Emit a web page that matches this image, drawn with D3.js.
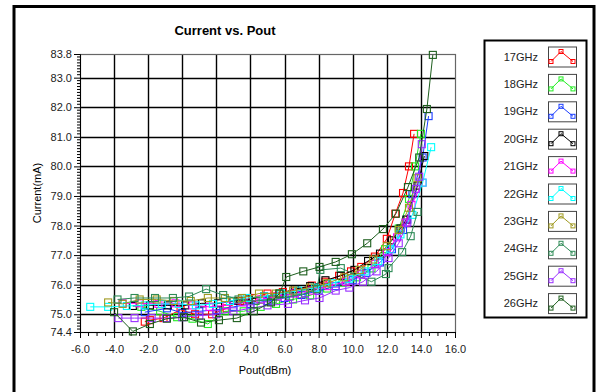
<!DOCTYPE html>
<html><head><meta charset="utf-8">
<script src="https://cdn.jsdelivr.net/npm/d3@7"></script>
<style>
html,body{margin:0;padding:0;background:#fff;}
svg text{font-family:"Liberation Sans",Arial,sans-serif;}
</style></head>
<body><svg id="c" width="603" height="392"></svg>
<script>
const title = "Current vs. Pout";
const xLabel = "Pout(dBm)";
const yLabel = "Current(mA)";
const xTicks = [-6,-4,-2,0,2,4,6,8,10,12,14,16];
const yTicks = [74.4,75,76,77,78,79,80,81,82,83,83.8];
const seriesNames = ["17GHz","18GHz","19GHz","20GHz","21GHz","22GHz","23GHz","24GHz","25GHz","26GHz"];
const seriesColors = ["#ff0000","#22ee22","#1a3cff","#000000","#ff00ff","#00ffff","#a09a20","#2e8b57","#9a30ff","#1d5e1d"];

const pout17 = [-2.2,-1.9,-1.1,-0.1,0.75,1.75,2.6,3.4,4.1,5.0,5.9,6.7,7.6,8.4,9.2,9.9,10.5,11.3,12.0,12.5,12.95,13.3,13.6];
const cur17  = [74.75,74.8,74.87,75.15,75.0,75.0,75.2,75.45,75.55,75.7,75.75,75.8,75.97,76.1,76.3,76.45,76.6,76.95,77.55,78.4,79.1,80.0,81.1];
const pout18 = [-2.4,-1.3,-0.3,0.6,1.5,2.5,3.6,4.6,5.5,6.5,7.5,8.5,9.4,10.25,11.1,11.9,12.7,13.3,13.65,14.0];
const cur18  = [75.25,75.1,74.9,74.85,74.67,75.1,75.1,75.25,75.35,75.5,75.64,75.87,76.07,76.25,76.55,77.2,77.9,78.9,80.0,81.1];
const pout19 = [-2.2,-0.9,0.0,1.0,2.0,3.0,4.0,5.0,6.0,7.0,8.0,9.0,10.0,10.8,11.6,12.3,12.95,13.2,13.5,14.1,14.45];
const cur19  = [75.07,75.2,75.05,75.1,75.15,75.25,75.35,75.45,75.55,75.65,75.8,75.95,76.15,76.4,76.75,77.2,77.85,78.2,79.06,80.3,81.7];
const pout20 = [-2.9,-1.9,-0.85,0.16,1.15,2.1,3.0,3.9,4.8,5.7,6.6,7.5,8.4,9.3,10.1,10.9,11.6,12.3,12.8,13.15,13.8,14.2];
const cur20  = [75.28,75.3,75.3,75.3,75.37,75.37,75.45,75.5,75.6,75.7,75.85,75.95,76.15,76.3,76.5,76.8,77.05,77.5,77.9,78.2,79.35,80.35];
const pout21 = [-3.5,-2.5,-1.4,-0.4,0.6,1.6,2.6,3.6,4.6,5.6,6.6,7.6,8.6,9.6,10.5,11.3,12.0,12.6,13.1,13.45,14.1];
const cur21  = [75.37,75.37,75.35,75.37,75.3,75.25,75.3,75.4,75.5,75.6,75.7,75.8,75.95,76.1,76.35,76.7,77.1,77.6,78.1,78.7,79.45];
const pout22 = [-5.4,-4.35,-3.25,-2.2,-1.2,-0.2,0.8,1.8,2.8,3.8,4.8,5.8,6.8,7.8,8.8,9.8,10.7,11.5,12.2,12.8,13.5,14.1,14.6];
const cur22  = [75.25,75.25,75.28,75.3,75.35,75.35,75.3,75.35,75.45,75.55,75.6,75.7,75.8,75.9,76.05,76.2,76.45,76.8,77.2,77.7,78.36,79.45,80.65];
const pout23 = [-4.35,-3.5,-2.5,-1.5,-0.5,0.5,1.5,2.5,3.5,4.5,5.5,6.5,7.5,8.5,9.5,10.4,11.2,12.0,12.7,13.3,13.8];
const cur23  = [75.4,75.35,75.5,75.5,75.45,75.45,75.55,75.55,75.55,75.7,75.7,75.8,75.9,76.05,76.25,76.5,76.85,77.3,77.85,78.6,79.6];
const pout24 = [-3.8,-2.8,-1.6,-0.55,0.4,1.4,2.4,3.3,4.3,5.3,6.3,7.2,7.9,8.1,9.3,11.1,11.95,12.1,12.9,13.4,13.8];
const cur24  = [75.5,75.55,75.55,75.55,75.6,75.85,75.65,75.5,75.45,75.5,75.6,75.7,75.85,76.5,76.56,76.1,76.36,76.56,77.1,77.64,78.46];
const pout25 = [-3.75,-2.8,-1.8,-0.95,0.0,1.0,2.0,3.0,4.0,5.0,6.2,7.2,8.05,9.0,9.8,10.6,11.4,12.1,12.7,13.2,13.7,13.9,14.05];
const cur25  = [74.87,74.87,74.87,74.87,74.9,74.95,75.0,75.1,75.2,75.3,75.35,75.47,75.55,75.8,75.9,76.1,76.45,76.9,77.4,78.1,79.24,79.65,80.75];
const pout26 = [-4.0,-2.9,-1.9,-0.9,0.1,1.1,2.15,3.2,4.2,5.2,5.7,6.1,7.1,8.05,9.0,9.95,10.85,11.77,12.53,13.24,13.9,14.35,14.7];
const cur26  = [75.07,74.42,74.67,74.85,74.9,74.72,74.8,74.87,75.1,75.4,75.7,76.26,76.45,76.6,76.77,77.03,77.4,77.88,78.4,79.3,80.3,81.94,83.77];

const poutAll = [pout17,pout18,pout19,pout20,pout21,pout22,pout23,pout24,pout25,pout26];
const curAll  = [cur17,cur18,cur19,cur20,cur21,cur22,cur23,cur24,cur25,cur26];
const series = seriesNames.map((n,i)=>({name:n,color:seriesColors[i],pts:poutAll[i].map((x,j)=>[x,curAll[i][j]])}));

const svg = d3.select("#c");
const L=80,R=455,T=54,B=332;
const x = d3.scaleLinear().domain([-6,16]).range([L,R]);
const y = d3.scaleLinear().domain([74.4,83.8]).range([B,T]);
const fmt = d => d.toFixed(1);

// outer frame
svg.append("rect").attr("x",14).attr("y",6.5).attr("width",580).attr("height",400)
  .attr("fill","none").attr("stroke","#000").attr("stroke-width",3);

svg.append("text").attr("x",225).attr("y",35).attr("text-anchor","middle")
  .attr("font-size",13).attr("font-weight","bold").text(title);

// grid
const g = svg.append("g");
g.selectAll("line.h").data(yTicks.filter(v=>v>74.4&&v<83.8)).join("line")
  .attr("x1",L).attr("x2",R).attr("y1",d=>Math.round(y(d))+0.5).attr("y2",d=>Math.round(y(d))+0.5)
  .attr("stroke","#000").attr("stroke-width",1.4);
g.selectAll("line.v").data(xTicks.filter(v=>v>-6&&v<16)).join("line")
  .attr("y1",T).attr("y2",B).attr("x1",d=>Math.round(x(d))+0.5).attr("x2",d=>Math.round(x(d))+0.5)
  .attr("stroke","#000").attr("stroke-width",1.4);
// plot border
svg.append("rect").attr("x",L+0.5).attr("y",T+0.5).attr("width",R-L).attr("height",B-T)
  .attr("fill","none").attr("stroke","#666").attr("stroke-width",1.2);

// axes
const yAxis = d3.axisLeft(y).tickValues(yTicks).tickFormat(fmt).tickSize(6).tickPadding(2);
const ya = svg.append("g").attr("transform",`translate(${L},0)`).call(yAxis);
const yMinor = d3.range(744,839).map(v=>v/10).filter(v=>!yTicks.some(t=>Math.abs(t-v)<1e-6));
ya.selectAll("line.minor").data(yMinor).join("line").attr("class","minor")
  .attr("x1",-3).attr("x2",0).attr("y1",d=>y(d)).attr("y2",d=>y(d)).attr("stroke","#000");
const xAxis = d3.axisBottom(x).tickValues(xTicks).tickFormat(fmt).tickSize(6).tickPadding(7);
const xa = svg.append("g").attr("transform",`translate(0,${B})`).call(xAxis);
const xMinor = d3.range(-12,33).map(v=>v/2).filter(v=>!xTicks.includes(v));
xa.selectAll("line.minor").data(xMinor).join("line").attr("class","minor")
  .attr("y1",0).attr("y2",4).attr("x1",d=>x(d)).attr("x2",d=>x(d)).attr("stroke","#000");
[ya,xa].forEach(a=>{a.select(".domain").attr("stroke","#000");
  a.selectAll("text").attr("font-size",11).attr("fill","#222").attr("font-family","Liberation Sans, Arial, sans-serif");});

svg.append("text").attr("x",265).attr("y",374).attr("text-anchor","middle").attr("font-size",11).text(xLabel);
svg.append("text").attr("transform",`translate(41,${(T+B)/2}) rotate(-90)`).attr("text-anchor","middle").attr("font-size",11).text(yLabel);

// series
const line = d3.line().x(d=>x(d[0])).y(d=>y(d[1]));
const sg = svg.append("g");
series.forEach(s=>{
  sg.append("path").attr("d",line(s.pts)).attr("fill","none").attr("stroke",s.color).attr("stroke-width",1);
  sg.selectAll(null).data(s.pts).join("rect")
    .attr("x",d=>x(d[0])-3.5).attr("y",d=>y(d[1])-3.5).attr("width",7).attr("height",7)
    .attr("fill","none").attr("stroke",s.color).attr("stroke-width",1.1);
});

// legend
svg.append("rect").attr("x",484.5).attr("y",40.5).attr("width",102).attr("height",277)
  .attr("fill","none").attr("stroke","#000").attr("stroke-width",2);
const lg = svg.append("g");
series.forEach((s,i)=>{
  const cy = 56.5 + i*27.4;
  lg.append("text").attr("x",538).attr("y",cy+4).attr("text-anchor","end").attr("font-size",11).attr("fill","#222").text(s.name);
  const bx=548, by=cy-10;
  lg.append("rect").attr("x",bx+0.5).attr("y",by+0.5).attr("width",28).attr("height",20)
    .attr("fill","#fff").attr("stroke","#444").attr("stroke-width",1);
  const ip=[[bx+3,by+15],[bx+13,by+5],[bx+25,by+15]];
  lg.append("path").attr("d",d3.line()(ip)).attr("fill","none").attr("stroke",s.color);
  ip.forEach(p=>lg.append("rect").attr("x",p[0]-2).attr("y",p[1]-2).attr("width",4).attr("height",4)
    .attr("fill","none").attr("stroke",s.color));
});
</script></body></html>
